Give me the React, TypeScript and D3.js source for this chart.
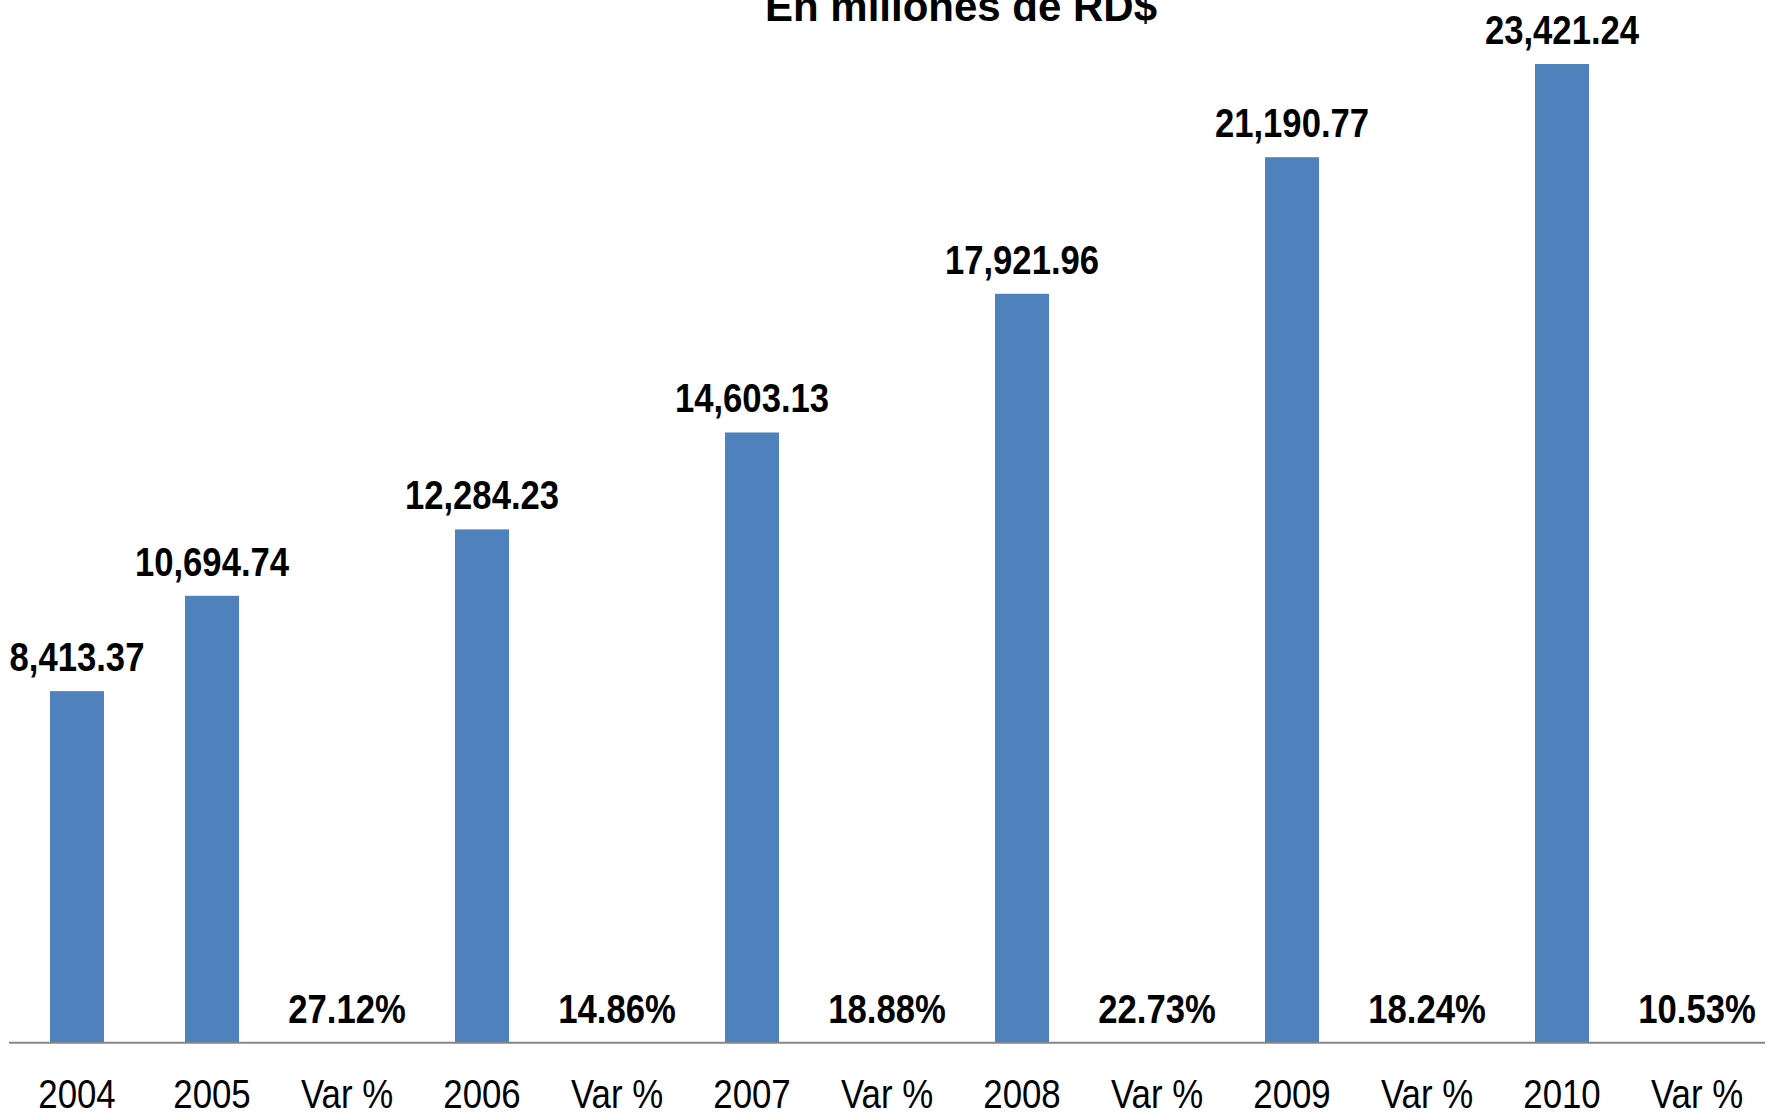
import React from "react";
import * as d3 from "d3";

const categories = ["2004", "2005", "Var %", "2006", "Var %", "2007", "Var %", "2008", "Var %", "2009", "Var %", "2010", "Var %"];
// null where the category carries a percentage instead of a bar
const barValues: (number | null)[] = [8413.37, 10694.74, null, 12284.23, null, 14603.13, null, 17921.96, null, 21190.77, null, 23421.24, null];
const pctValues: (number | null)[] = [null, null, 27.12, null, 14.86, null, 18.88, null, 22.73, null, 18.24, null, 10.53];
const title = "En millones de RD$";

const W = 1773;
const H = 1116;

function NarrowText(props: { x: number; y: number; bold?: boolean; size: number; sx: number; children: React.ReactNode }) {
  return (
    <text
      transform={`translate(${props.x},${props.y}) scale(${props.sx},1)`}
      textAnchor="middle"
      fontFamily="'Liberation Sans', Arial, sans-serif"
      fontWeight={props.bold ? "bold" : "normal"}
      fontSize={props.size}
      fill="#000"
    >
      {props.children}
    </text>
  );
}

export default function App() {
  const axisY = 1042.7;
  const x = d3
    .scaleBand<number>()
    .domain(categories.map((_, i) => i))
    .range([9.5, 1764.5])
    .paddingInner(0.6)
    .paddingOuter(0.3);
  const y = d3.scaleLinear().domain([0, 23421.24]).range([axisY, 64]);
  const fmt = d3.format(",.2f");
  const cx = (i: number) => (x(i) as number) + x.bandwidth() / 2;

  return (
    <svg width={W} height={H} style={{ position: "absolute", left: 0, top: 0, background: "#fff" }}>
      <text x={961} y={21} textAnchor="middle" fontFamily="'Liberation Sans', Arial, sans-serif" fontWeight="bold" fontSize={42} fill="#000">
        {title}
      </text>
      {barValues.map((v, i) =>
        v == null ? null : (
          <g key={"b" + i}>
            <rect x={x(i)} y={y(v)} width={x.bandwidth()} height={axisY - y(v)} fill="#4F81BD" />
            <NarrowText x={cx(i)} y={y(v) - 20} bold size={41} sx={0.845}>
              {fmt(v)}
            </NarrowText>
          </g>
        )
      )}
      {pctValues.map((p, i) =>
        p == null ? null : (
          <NarrowText key={"p" + i} x={cx(i)} y={axisY - 20} bold size={41} sx={0.845}>
            {p.toFixed(2) + "%"}
          </NarrowText>
        )
      )}
      <line x1={9} x2={1765} y1={axisY} y2={axisY} stroke="#868686" strokeWidth={2} />
      {categories.map((c, i) => (
        <NarrowText key={"c" + i} x={cx(i)} y={1108} size={40} sx={0.87}>
          {c}
        </NarrowText>
      ))}
    </svg>
  );
}
